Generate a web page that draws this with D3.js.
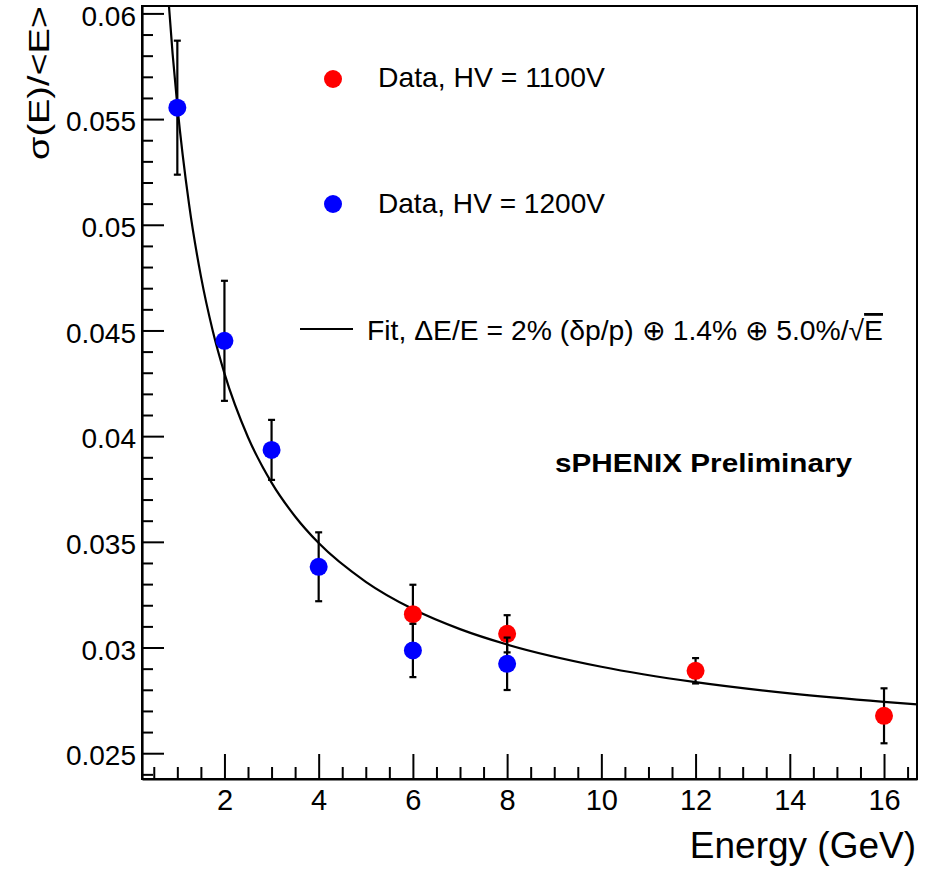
<!DOCTYPE html>
<html>
<head>
<meta charset="utf-8">
<script src="https://cdn.jsdelivr.net/npm/d3@7"></script>
<style>
  html, body { margin: 0; padding: 0; background: #fff; }
  svg { display: block; }
  text { font-family: "Liberation Sans", Arial, Helvetica, sans-serif; fill: #000; }
</style>
</head>
<body>
<svg id="chart" width="925" height="871"></svg>
<script>
// ---- data ----
const redEnergy = [6, 8, 12, 16];
const redSigma  = [0.03158, 0.03065, 0.0289, 0.02677];
const redErr    = [0.00139, 0.00088, 0.0006, 0.0013];

const blueEnergy = [1, 2, 3, 4, 6, 8];
const blueSigma  = [0.05554, 0.04451, 0.03935, 0.03382, 0.02986, 0.02923];
const blueErr    = [0.00317, 0.00284, 0.00142, 0.00163, 0.00126, 0.00124];

// fit curve, points
const fitEnergy = [0.8, 0.9, 1, 1.25, 1.5, 1.75, 2, 2.5, 3, 3.5, 4, 5, 6, 7, 8, 10, 12, 14, 16, 16.7];
const fitSigma  = [0.0610, 0.05808, 0.05564, 0.05095, 0.04757, 0.0450, 0.04297, 0.03995, 0.0378, 0.0362,
                   0.03494, 0.03311, 0.03182, 0.03087, 0.03014, 0.02909, 0.02836, 0.02783, 0.02743, 0.02731];

const xMajorTicks = [2, 4, 6, 8, 10, 12, 14, 16];
const yMajorTicks = [0.025, 0.03, 0.035, 0.04, 0.045, 0.05, 0.055, 0.06];
const xMinorTicks = d3.range(1, 34).map(i => i * 0.5).filter(v => v % 2 !== 0);
const yMinorTicks = d3.range(24, 61).map(i => i / 1000).filter(v => Math.round(v * 1000) % 5 !== 0);

const legendLabels = ["Data, HV = 1100V", "Data, HV = 1200V"];

// ---- layout ----
const svg = d3.select("#chart");
const L = 142, R = 917, T = 6, B = 779;
const x = d3.scaleLinear().domain([0.25, 16.7]).range([L, R]);
const y = d3.scaleLinear().domain([0.02378, 0.06035]).range([B, T]);

svg.append("defs").append("clipPath").attr("id", "plotclip")
  .append("rect").attr("x", L).attr("y", T).attr("width", R - L).attr("height", B - T);

// frame
svg.append("rect").attr("x", L).attr("y", T).attr("width", R - L).attr("height", B - T)
  .attr("fill", "none").attr("stroke", "#000").attr("stroke-width", 2);

// y axis major
const gy = svg.append("g").attr("transform", `translate(${L},0)`)
  .call(d3.axisLeft(y).tickValues(yMajorTicks).tickSizeInner(-22).tickSizeOuter(0).tickPadding(6)
    .tickFormat(d => String(+d.toFixed(3))));
gy.select(".domain").attr("stroke-width", 2.2);
gy.selectAll(".tick line").attr("stroke-width", 2);
gy.selectAll(".tick text").attr("font-size", 28).attr("dy", "0.42em")
  .style("font-family", '"Liberation Sans", Arial, sans-serif');
// y axis minor
const gym = svg.append("g").attr("transform", `translate(${L},0)`)
  .call(d3.axisLeft(y).tickValues(yMinorTicks).tickSizeInner(-11).tickSizeOuter(0).tickFormat(""));
gym.select(".domain").remove();
gym.selectAll(".tick line").attr("stroke-width", 2);

// x axis major
const gx = svg.append("g").attr("transform", `translate(0,${B})`)
  .call(d3.axisBottom(x).tickValues(xMajorTicks).tickSizeInner(-25).tickSizeOuter(0).tickPadding(10));
gx.select(".domain").attr("stroke-width", 2.2);
gx.selectAll(".tick line").attr("stroke-width", 2);
gx.selectAll(".tick text").attr("font-size", 29)
  .style("font-family", '"Liberation Sans", Arial, sans-serif');
// x axis minor
const gxm = svg.append("g").attr("transform", `translate(0,${B})`)
  .call(d3.axisBottom(x).tickValues(xMinorTicks).tickSizeInner(-12).tickSizeOuter(0).tickFormat(""));
gxm.select(".domain").remove();
gxm.selectAll(".tick line").attr("stroke-width", 2);

// axis titles
svg.append("text").attr("x", 916).attr("y", 858).attr("text-anchor", "end")
  .attr("font-size", 37).text("Energy (GeV)");
svg.append("text").attr("transform", "translate(49,6) rotate(-90)").attr("text-anchor", "end")
  .attr("font-size", 30).attr("textLength", 154).attr("lengthAdjust", "spacingAndGlyphs")
  .text("σ(E)/<E>");

// fit curve
const fitData = fitEnergy.map((e, i) => [e, fitSigma[i]]);
svg.append("path").datum(fitData)
  .attr("clip-path", "url(#plotclip)")
  .attr("fill", "none").attr("stroke", "#000").attr("stroke-width", 2.2)
  .attr("d", d3.line().x(d => x(d[0])).y(d => y(d[1])).curve(d3.curveMonotoneX));

// data series
function drawSeries(es, vs, errs, color) {
  const g = svg.append("g");
  es.forEach((e, i) => {
    const cx = x(e), lo = y(vs[i] - errs[i]), hi = y(vs[i] + errs[i]);
    g.append("line").attr("x1", cx).attr("x2", cx).attr("y1", lo).attr("y2", hi)
      .attr("stroke", "#000").attr("stroke-width", 2.2);
    [lo, hi].forEach(yy => g.append("line").attr("x1", cx - 3.5).attr("x2", cx + 3.5)
      .attr("y1", yy).attr("y2", yy).attr("stroke", "#000").attr("stroke-width", 2.2));
  });
  g.selectAll("circle.m").data(es).enter().append("circle")
    .attr("cx", d => x(d)).attr("cy", (d, i) => y(vs[i])).attr("r", 9).attr("fill", color);
}
drawSeries(redEnergy, redSigma, redErr, "#ff0000");
drawSeries(blueEnergy, blueSigma, blueErr, "#0000ff");

// legend
const leg = svg.append("g");
leg.append("circle").attr("cx", 333).attr("cy", 79).attr("r", 9).attr("fill", "#ff0000");
leg.append("text").attr("x", 378).attr("y", 87).attr("font-size", 28)
  .attr("textLength", 227).attr("lengthAdjust", "spacingAndGlyphs").text(legendLabels[0]);
leg.append("circle").attr("cx", 333).attr("cy", 204).attr("r", 9).attr("fill", "#0000ff");
leg.append("text").attr("x", 378).attr("y", 212.5).attr("font-size", 28)
  .attr("textLength", 227).attr("lengthAdjust", "spacingAndGlyphs").text(legendLabels[1]);
leg.append("line").attr("x1", 300).attr("x2", 353).attr("y1", 329).attr("y2", 329)
  .attr("stroke", "#000").attr("stroke-width", 2.2);
const fitText = leg.append("text").attr("x", 367).attr("y", 340).attr("font-size", 28)
  .attr("textLength", 516).attr("lengthAdjust", "spacingAndGlyphs");
fitText.append("tspan").text("Fit, ΔE/E = 2% (δp/p) ⊕ 1.4% ⊕ 5.0%/√");
fitText.append("tspan").style("text-decoration", "overline").text("E");

// label
svg.append("text").attr("x", 555).attr("y", 471.5).attr("font-size", 26).attr("font-weight", "bold")
  .attr("textLength", 297).attr("lengthAdjust", "spacingAndGlyphs").text("sPHENIX Preliminary");
</script>
</body>
</html>
